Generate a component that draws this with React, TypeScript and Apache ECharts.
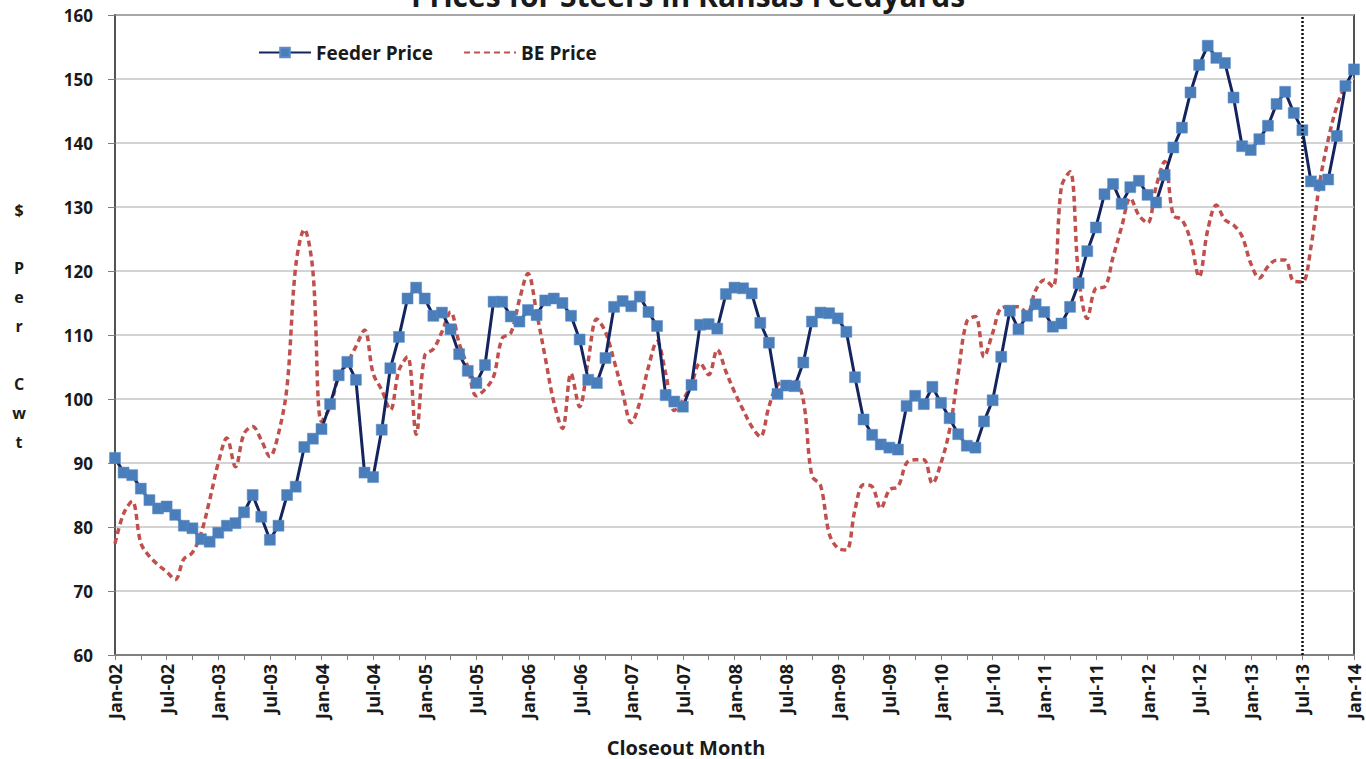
import React, { useEffect, useRef } from "react";
import * as echarts from "echarts";

const monthNames = ["Jan", "Feb", "Mar", "Apr", "May", "Jun", "Jul", "Aug", "Sep", "Oct", "Nov", "Dec"];
const startYear = 2002;
const monthCount = 145;

const categories: string[] = [];
for (let i = 0; i < monthCount; i++) {
  const y = startYear + Math.floor(i / 12);
  categories.push(monthNames[i % 12] + "-" + String(y % 100).padStart(2, "0"));
}

const feederPrice = [
  90.8, 88.5, 88.1, 86.0, 84.2, 82.9, 83.2, 81.9, 80.2, 79.8, 78.1, 77.7,
  79.1, 80.2, 80.6, 82.3, 85.0, 81.6, 78.0, 80.2, 85.0, 86.3, 92.5, 93.8,
  95.3, 99.2, 103.7, 105.8, 103.0, 88.5, 87.8, 95.2, 104.8, 109.7, 115.7, 117.4,
  115.7, 113.0, 113.5, 110.9, 107.0, 104.4, 102.5, 105.3, 115.2, 115.2, 112.9, 112.1,
  113.9, 113.1, 115.4, 115.7, 115.0, 113.0, 109.3, 103.0, 102.5, 106.4, 114.4, 115.3,
  114.5, 116.0, 113.6, 111.4, 100.6, 99.6, 98.8, 102.2, 111.6, 111.7, 111.0, 116.4,
  117.4, 117.3, 116.5, 111.9, 108.8, 100.8, 102.1, 102.0, 105.7, 112.1, 113.5, 113.4,
  112.6, 110.5, 103.4, 96.8, 94.4, 92.9, 92.4, 92.1, 98.9, 100.5, 99.2, 101.9,
  99.4, 97.0, 94.5, 92.7, 92.4, 96.5, 99.8, 106.6, 113.8, 110.9, 113.0, 114.8,
  113.6, 111.3, 111.8, 114.4, 118.1, 123.1, 126.8, 132.0, 133.6, 130.5, 133.1, 134.1,
  131.9, 130.7, 135.0, 139.3, 142.4, 147.9, 152.2, 155.2, 153.3, 152.5, 147.1, 139.5,
  138.9, 140.6, 142.7, 146.1, 148.0, 144.7, 142.0, 134.0, 133.4, 134.3, 141.1, 148.9,
  151.5,
];

const bePrice = [
  77.4, 82.1, 84.0, 77.5, 75.4, 74.1, 73.0, 71.8, 75.0, 76.0, 79.0, 84.2,
  90.0, 93.9, 89.4, 94.6, 95.7, 93.6, 91.0, 94.6, 102.0, 120.7, 126.5, 120.0,
  96.5, 98.8, 103.5, 105.6, 108.2, 110.8, 104.0, 101.4, 98.3, 104.5, 106.6, 94.5,
  106.8, 107.8, 110.5, 113.6, 108.7, 105.0, 100.5, 101.5, 103.5, 109.5, 110.3, 115.5,
  119.6, 113.5, 106.5, 99.5, 95.4, 104.0, 98.8, 106.0, 112.5, 110.5, 106.0, 101.0,
  96.3, 99.5, 105.0, 109.0, 104.0, 98.2, 99.8, 102.4, 105.6, 103.8, 107.7, 104.3,
  101.1, 98.3, 95.7, 94.1, 98.8, 102.2, 102.7, 102.7, 99.8, 88.0, 86.5, 79.0,
  76.7, 76.4, 82.7, 86.6, 86.3, 82.9, 85.8, 86.3, 90.0, 90.5, 90.5, 86.8,
  90.0, 95.2, 104.0, 112.1, 112.9, 106.6, 110.3, 114.2, 114.4, 114.4, 113.4, 117.0,
  118.6, 117.5, 133.2, 135.5, 119.1, 112.6, 117.3, 117.5, 122.2, 126.9, 131.4, 128.7,
  127.5, 133.2, 137.1, 128.7, 128.0, 124.8, 119.1, 126.4, 130.3, 128.0, 127.2, 125.4,
  121.2, 118.9, 120.7, 121.7, 121.7, 118.4, 118.3, 123.8, 133.7, 140.5, 145.7, 148.8,
  150.1,
];

const markerMonth = "Jul-13";
const titleText = "Prices for Steers in Kansas Feedyards";
const yAxisTitle = "$\n\nP\ne\nr\n\nC\nw\nt";
const xAxisTitle = "Closeout Month";

const FONT = "'Open Sans', 'Liberation Sans', sans-serif";

export default function App() {
  const ref = useRef<HTMLDivElement>(null);

  useEffect(() => {
    if (!ref.current) return;
    const chart = echarts.init(ref.current, null, { renderer: "svg" });
    chart.setOption({
      animation: false,
      backgroundColor: "#ffffff",
      textStyle: { fontFamily: FONT },
      grid: {
        left: 115,
        top: 15,
        width: 1239,
        height: 640,
        show: true,
        borderColor: "#1a1a1a",
        borderWidth: 1.5,
        backgroundColor: "transparent",
      },
      legend: {
        left: 253,
        top: 38,
        itemWidth: 52,
        itemHeight: 12,
        itemGap: 30,
        textStyle: { fontFamily: FONT, fontWeight: "bold", fontSize: 19, color: "#1a1a1a" },
        data: [
          { name: "Feeder Price" },
          { name: "BE Price", itemStyle: { opacity: 0 } },
        ],
      },
      xAxis: {
        type: "category",
        data: categories,
        boundaryGap: false,
        axisLine: { show: true, lineStyle: { color: "#7f7f7f", width: 2 } },
        axisTick: { show: true, interval: 2, length: 5, lineStyle: { color: "#7f7f7f" } },
        axisLabel: {
          interval: 5,
          rotate: 90,
          margin: 9,
          fontFamily: FONT,
          fontWeight: "bold",
          fontSize: 18,
          color: "#1a1a1a",
        },
        splitLine: { show: false },
      },
      yAxis: {
        type: "value",
        min: 60,
        max: 160,
        interval: 10,
        axisLine: { show: true, lineStyle: { color: "#555", width: 1.5 } },
        axisTick: { show: true, length: 7, lineStyle: { color: "#7f7f7f" } },
        axisLabel: {
          margin: 22,
          fontFamily: FONT,
          fontWeight: "bold",
          fontSize: 17,
          color: "#1a1a1a",
        },
        splitLine: { show: true, lineStyle: { color: "#c4c4c4", width: 1.5 } },
      },
      graphic: [
        {
          type: "text",
          x: 688,
          y: 10,
          style: {
            text: titleText,
            align: "center",
            verticalAlign: "bottom",
            font: "bold 30px " + FONT,
            fill: "#1a1a1a",
          },
        },
        {
          type: "text",
          x: 19,
          y: 326,
          style: {
            text: yAxisTitle,
            align: "center",
            verticalAlign: "middle",
            lineHeight: 29,
            font: "bold 16px " + FONT,
            fill: "#1a1a1a",
          },
        },
        {
          type: "text",
          x: 686,
          y: 747,
          style: {
            text: xAxisTitle,
            align: "center",
            verticalAlign: "middle",
            font: "bold 20px " + FONT,
            fill: "#1a1a1a",
          },
        },
      ],
      series: [
        {
          name: "BE Price",
          type: "line",
          data: bePrice,
          smooth: 0.35,
          symbol: "none",
          lineStyle: { color: "#c0504d", width: 3.5, type: [6, 4] },
          itemStyle: { color: "#c0504d" },
          z: 2,
        },
        {
          name: "Feeder Price",
          type: "line",
          data: feederPrice,
          symbol: "rect",
          symbolSize: 11,
          showAllSymbol: true,
          lineStyle: { color: "#14245e", width: 3 },
          itemStyle: { color: "#4a7ebb", borderColor: "#5b8cc8", borderWidth: 0.5 },
          z: 3,
          markLine: {
            silent: true,
            symbol: "none",
            label: { show: false },
            lineStyle: { color: "#111", width: 2.5, type: [2, 2] },
            data: [{ xAxis: markerMonth }],
          },
        },
      ],
    });
    return () => chart.dispose();
  }, []);

  return (
    <div
      ref={ref}
      style={{ position: "fixed", left: 0, top: 0, width: 1366, height: 759 }}
    />
  );
}
